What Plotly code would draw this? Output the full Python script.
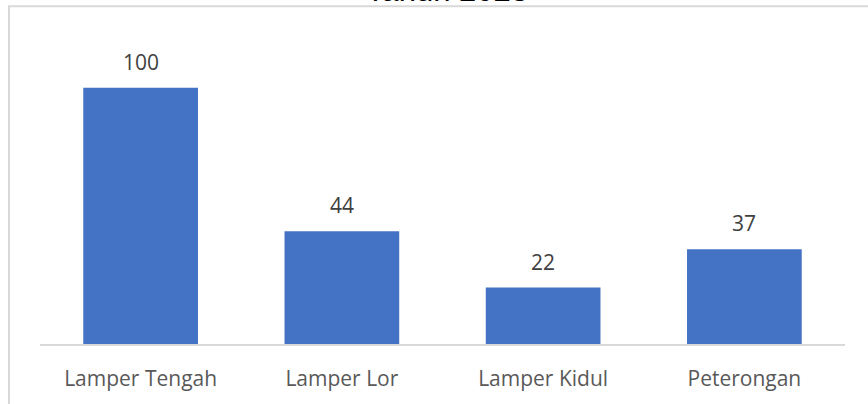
import plotly.graph_objects as go

# data
kelurahan = ["Lamper Tengah", "Lamper Lor", "Lamper Kidul", "Peterongan"]
jumlah = [100, 44, 22, 37]
judul = "Tahun 2023"

bar_color = "#4472C4"
border_color = "#D9D9D9"

fig = go.Figure(
    go.Bar(
        x=kelurahan,
        y=jumlah,
        width=0.57,
        marker=dict(color=bar_color, line_width=0),
        hoverinfo="x+y",
    )
)

# value labels above each bar
for k, v in zip(kelurahan, jumlah):
    fig.add_annotation(
        x=k, y=v, text=str(v),
        showarrow=False, yanchor="bottom", yshift=10,
        font=dict(family="Open Sans", size=21, color="#404040"),
    )

# title, mostly cut off at the top of the page
fig.add_annotation(
    xref="paper", yref="paper", x=0.505, y=1,
    text=judul, showarrow=False, xanchor="center", yanchor="bottom", yshift=20,
    font=dict(family="Liberation Sans", size=31, color="#000000"),
)

# chart area border
fig.add_shape(
    type="rect", xref="paper", yref="paper",
    x0=-0.0385, x1=1.2, y0=-0.5, y1=1.076,
    line=dict(color=border_color, width=2), fillcolor="rgba(0,0,0,0)",
)

fig.update_layout(
    width=868,
    height=404,
    margin=dict(l=40, r=23, t=30, b=58),
    paper_bgcolor="white",
    plot_bgcolor="white",
    showlegend=False,
    xaxis=dict(
        range=[-0.5, 3.5],
        showline=True,
        linecolor=border_color,
        linewidth=2,
        showgrid=False,
        ticks="",
        ticklabelstandoff=15,
        tickfont=dict(family="Open Sans", size=21, color="#595959"),
    ),
    yaxis=dict(
        range=[0, 316 / 2.58],
        visible=False,
        showgrid=False,
        zeroline=False,
    ),
)

# drop the page's default body margin so the figure sits at the corner
fig.write_html(
    "out.html",
    config={"displayModeBar": False},
    post_script="document.body.style.margin='0';",
)
